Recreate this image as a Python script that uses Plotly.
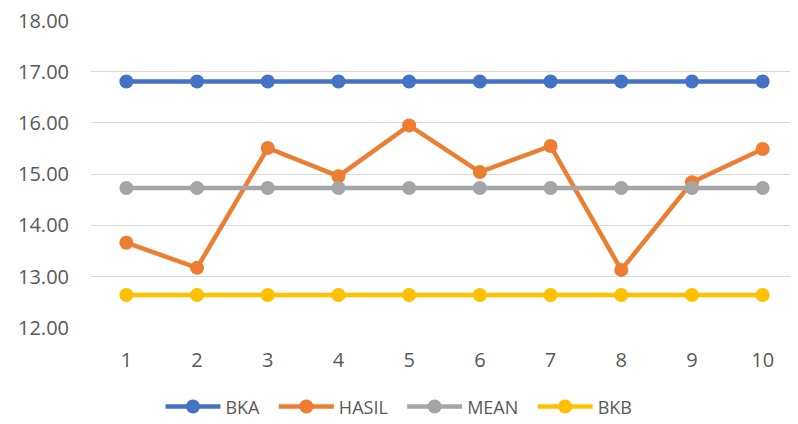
import plotly.graph_objects as go

x = [1, 2, 3, 4, 5, 6, 7, 8, 9, 10]
bka = [16.81] * 10
hasil = [13.66, 13.17, 15.51, 14.96, 15.95, 15.04, 15.55, 13.13, 14.84, 15.49]
mean = [14.73] * 10
bkb = [12.64] * 10
names = ['BKA', 'HASIL', 'MEAN', 'BKB']
y_ticks = [12, 13, 14, 15, 16, 17, 18]

Colors = dict(
  BKA='#4472C4',
  HASIL='#ED7D31',
  MEAN='#A5A5A5',
  BKB='#FFC000',
)

fig = go.Figure()
for i, (name, ys) in enumerate(zip(names, [bka, hasil, mean, bkb])):
  # pad legend labels so entries are spaced like the original
  label = name + ('\u00a0\u00a0' if i < len(names) - 1 else '')
  fig.add_trace(go.Scatter(x=x, y=ys, name=label, mode='lines+markers',
                           line=dict(color=Colors[name], width=4.5),
                           marker=dict(color=Colors[name], size=14)))

font = dict(family='Open Sans, Liberation Sans, sans-serif', size=20, color='#595959')
# page puts the figure 8px in from the top-left, so the figure is 8px smaller
fig.update_layout(
  width=790, height=416,
  margin=dict(l=83, r=0, t=12, b=96, autoexpand=False),
  paper_bgcolor='white', plot_bgcolor='white',
  font=font,
  showlegend=True,
  legend=dict(orientation='h', x=0.4356, xanchor='center',
              y=-0.256, yanchor='middle', font=dict(font, size=18),
              traceorder='normal', itemwidth=55),
)
fig.update_xaxes(range=[0.5, 10.5], tickvals=x, ticktext=[str(i) for i in x],
                 showgrid=False, zeroline=False, showline=False,
                 ticks='outside', ticklen=14, tickcolor='rgba(0,0,0,0)')
fig.update_yaxes(range=[11.995, 18.01], tickvals=y_ticks, tickformat='.2f',
                 ticklabeloverflow='allow',
                 showgrid=True, gridcolor='#D9D9D9', gridwidth=1.3,
                 zeroline=False, showline=False,
                 ticks='outside', ticklen=17, tickcolor='rgba(0,0,0,0)')

fig.write_html("out.html")
